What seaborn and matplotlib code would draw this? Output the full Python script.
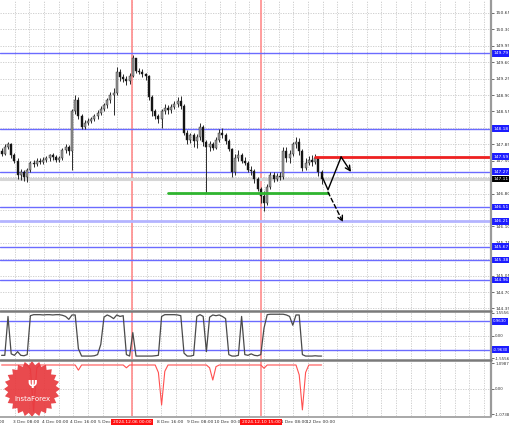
import matplotlib
matplotlib.use("Agg")
import matplotlib.pyplot as plt
import matplotlib.transforms as mtransforms
import numpy as np
import pandas as pd
import seaborn as sns
from matplotlib.patches import Polygon

# ---- H1 candles ----
opens = [147.70, 147.65, 147.80, 147.85, 147.62, 147.50, 147.20, 147.25, 147.15, 147.30,
         147.45, 147.42, 147.50, 147.48, 147.52, 147.55, 147.62, 147.58, 147.52, 147.55,
         147.72, 147.80, 147.70, 148.55, 148.80, 148.45, 148.22, 148.30, 148.35, 148.38,
         148.45, 148.52, 148.60, 148.68, 148.80, 148.90, 148.95, 149.40, 149.28, 149.25,
         149.20, 149.30, 149.68, 149.42, 149.40, 149.35, 149.30, 148.85, 148.55, 148.45,
         148.40, 148.55, 148.62, 148.58, 148.65, 148.70, 148.78, 148.66, 148.10, 147.95,
         148.05, 147.92, 148.00, 148.22, 147.90, 147.80, 147.85, 147.78, 147.95, 148.10,
         148.05, 147.92, 147.75, 147.25, 147.55, 147.62, 147.50, 147.45, 147.30, 147.28,
         147.10, 146.90, 146.75, 146.60, 146.95, 147.20, 147.12, 147.18, 147.15, 147.70,
         147.55, 147.65, 147.85, 147.90, 147.70, 147.35, 147.45, 147.52, 147.48, 147.55,
         147.25]
closes = [147.65, 147.80, 147.85, 147.62, 147.50, 147.20, 147.25, 147.15, 147.30, 147.45,
          147.42, 147.50, 147.48, 147.52, 147.55, 147.62, 147.58, 147.52, 147.55, 147.72,
          147.80, 147.70, 148.55, 148.80, 148.45, 148.22, 148.30, 148.35, 148.38, 148.45,
          148.52, 148.60, 148.68, 148.80, 148.90, 148.95, 149.40, 149.28, 149.25, 149.20,
          149.30, 149.68, 149.42, 149.40, 149.35, 149.30, 148.85, 148.55, 148.45, 148.40,
          148.55, 148.62, 148.58, 148.65, 148.70, 148.78, 148.66, 148.10, 147.95, 148.05,
          147.92, 148.00, 148.22, 147.90, 147.80, 147.85, 147.78, 147.95, 148.10, 148.05,
          147.92, 147.75, 147.25, 147.55, 147.62, 147.50, 147.45, 147.30, 147.28, 147.10,
          146.90, 146.75, 146.60, 146.95, 147.20, 147.12, 147.18, 147.15, 147.70, 147.55,
          147.65, 147.85, 147.90, 147.70, 147.35, 147.45, 147.52, 147.48, 147.55, 147.25,
          147.11]
highs = [147.78, 147.85, 147.90, 147.88, 147.66, 147.55, 147.32, 147.30, 147.35, 147.50,
         147.52, 147.55, 147.56, 147.58, 147.60, 147.65, 147.66, 147.62, 147.60, 147.78,
         147.86, 147.84, 148.60, 148.90, 148.85, 148.50, 148.36, 148.42, 148.44, 148.50,
         148.58, 148.66, 148.74, 148.84, 148.96, 149.05, 149.50, 149.45, 149.35, 149.30,
         149.36, 149.76, 149.70, 149.48, 149.45, 149.38, 149.32, 148.90, 148.60, 148.50,
         148.60, 148.70, 148.68, 148.72, 148.78, 148.86, 148.88, 148.70, 148.15, 148.10,
         148.10, 148.08, 148.30, 148.26, 147.95, 147.92, 147.90, 148.00, 148.18, 148.20,
         148.10, 147.96, 147.78, 147.65, 147.72, 147.66, 147.58, 147.50, 147.38, 147.32,
         147.15, 146.95, 146.85, 147.00, 147.25, 147.26, 147.24, 147.25, 147.80, 147.80,
         147.72, 147.90, 148.00, 147.98, 147.74, 147.55, 147.60, 147.62, 147.64, 147.58,
         147.30]
lows = [147.60, 147.62, 147.75, 147.55, 147.45, 147.12, 147.08, 147.06, 147.05, 147.25,
        147.36, 147.38, 147.42, 147.44, 147.48, 147.50, 147.52, 147.48, 147.47, 147.52,
        147.66, 147.62, 147.30, 148.50, 148.40, 148.18, 148.18, 148.26, 148.30, 148.34,
        148.40, 148.48, 148.55, 148.62, 148.74, 148.48, 148.90, 149.20, 149.18, 149.12,
        149.14, 149.28, 149.38, 149.34, 149.28, 149.22, 148.80, 148.45, 148.38, 148.30,
        148.20, 148.50, 148.50, 148.52, 148.60, 148.64, 148.60, 148.05, 147.85, 147.88,
        147.80, 147.78, 147.95, 147.82, 146.82, 147.70, 147.72, 147.74, 147.90, 147.98,
        147.85, 147.70, 147.15, 147.20, 147.50, 147.45, 147.40, 147.25, 147.20, 147.02,
        146.85, 146.60, 146.43, 146.55, 146.90, 147.05, 147.06, 147.08, 147.12, 147.48,
        147.45, 147.60, 147.78, 147.62, 147.28, 147.30, 147.40, 147.38, 147.42, 147.18,
        147.00]

# ---- indicator windows ----
osc = [-1.35, -1.35, 1.30, -1.25, -1.35, -1.10, -1.35, -1.38, -1.30, 1.35,
       1.42, 1.42, 1.42, 1.40, 1.42, 1.42, 1.40, 1.42, 1.42, 1.38,
       1.30, 1.10, 1.40, 1.40, -0.90, -1.40, -1.40, -1.40, -1.40, -1.38,
       -1.30, -0.60, 1.25, 1.40, 1.30, 1.15, 1.40, 1.30, 1.35, -1.30,
       -1.40, 0.20, -1.40, -1.40, -1.40, -1.40, -1.40, -1.40, -1.38, -1.35,
       1.30, 1.42, 1.42, 1.42, 1.42, 1.40, 1.35, -1.20, -1.40, -1.40,
       -1.35, 1.30, 1.42, 1.30, -1.10, 1.25, 1.40, 1.35, 1.40, 1.30,
       1.15, -1.30, -1.40, -1.40, -1.35, 1.30, -1.30, -1.35, -1.25, -1.35,
       -1.38, -1.30, 0.50, 1.42, 1.45, 1.45, 1.45, 1.45, 1.45, 1.40,
       1.30, 0.70, 1.40, 1.40, -1.30, -1.40, -1.40, -1.40, -1.38, -1.40,
       -1.40]
ind2 = [1.02, 1.02, 1.02, 1.02, 1.02, 1.02, 1.02, 1.02, 1.02, 0.85,
        -0.95, 0.90, 1.02, 1.02, 1.02, 1.02, 1.02, 1.02, 1.02, 1.02,
        1.02, 1.02, 1.02, 1.02, 0.80, 1.02, 1.02, 1.02, 1.02, 1.02,
        1.02, 1.02, 1.02, 1.02, 1.02, 1.02, 1.02, 1.02, 1.02, 0.90,
        1.02, 1.02, 1.02, 1.02, 1.02, 1.02, 1.02, 1.02, 1.02, 0.70,
        -0.68, 0.75, 1.02, 1.02, 1.02, 1.02, 1.02, 1.02, 1.02, 1.02,
        1.02, 1.02, 1.02, 1.02, 1.02, 0.90, 0.38, 0.95, 1.02, 1.02,
        1.02, 1.02, 1.02, 1.02, 1.02, 1.02, 1.02, 1.02, 1.02, 1.02,
        1.02, 1.02, 0.88, 1.02, 1.02, 1.02, 1.02, 1.02, 1.02, 1.02,
        1.02, 1.02, 1.02, 0.60, -0.89, 0.70, 1.02, 1.02, 1.02, 1.02,
        1.02]

# ---- levels & annotations ----
blue_levels = [149.79, 148.18, 147.27, 146.51, 146.21, 145.67, 145.38, 144.96]
resist_level = 147.59
support_level = 146.81
last_price = 147.11
price_ticks = [150.65, 150.30, 149.95, 149.60, 149.25, 148.90, 148.55, 148.20, 147.85,
               147.50, 147.15, 146.80, 146.45, 146.10, 145.75, 145.40, 145.05, 144.70, 144.35]
up_path_x = [100.1, 102.0, 106.1, 109.2]
up_path_y = [147.17, 146.88, 147.58, 147.26]
down_path_x = [102.0, 106.7]
down_path_y = [146.83, 146.19]
marker_bars = [40.75, 81.06]
marker_labels = ["2024.12.06 00:00", "2024.12.10 15:00"]
date_labels = ["2 Dec 16:00", "3 Dec 08:00", "4 Dec 00:00", "4 Dec 16:00", "5 Dec 08:00",
               "8 Dec 16:00", "9 Dec 08:00", "10 Dec 00:00", "11 Dec 08:00", "12 Dec 00:00"]
date_px = [-9, 26, 55, 83, 111, 170, 200, 229, 293, 321]

W, H = 510, 428
PX = 3.2                     # pixels per bar
XMAX = 491 / PX - 0.5
FS = 3.2                     # terminal-style tiny labels


def box(left, top, w, h):
    return [left / W, 1 - (top + h) / H, w / W, h / H]


sns.set_theme(style="white")
plt.rcParams['font.family'] = ['DejaVu Sans']

fig = plt.figure(figsize=(W / 100, H / 100), dpi=100)
ax = fig.add_axes(box(0, 0, 491, 310))
ax1 = fig.add_axes(box(0, 311, 491, 48))
ax2 = fig.add_axes(box(0, 361, 491, 55))

grid_kw = dict(color='#c9c9c9', lw=0.6, ls=(0, (1.5, 1.5)), zorder=0)
vgrid = [k * 14.67 / PX - 0.5 for k in range(1, 34)]
for a in (ax, ax1, ax2):
    a.set_xlim(-0.5, XMAX)
    for v in vgrid:
        a.axvline(v, **grid_kw)
    for s in a.spines.values():
        s.set_visible(False)
    a.set_xticks([])
    for mb in marker_bars:
        a.axvline(mb, color='#ff8c8c', lw=1.2, zorder=1)

# ---- main price panel ----
ax.set_ylim(144.317, 150.927)
for t in price_ticks:
    ax.axhline(t, **grid_kw)
ax.axhline(last_price, color='#d6d6d6', lw=2.2, zorder=1)
for lv in blue_levels:
    light = lv == 146.21
    ax.axhline(lv, color='#b4b4ff' if light else '#6b6bff', lw=2 if light else 1, zorder=2)

idx = np.arange(len(closes))
o = np.array(opens); c = np.array(closes)
ax.vlines(idx, lows, highs, color='#2a2a2a', lw=0.7, zorder=3)
body_col = np.where(c >= o, '#9a9a9a', '#111111')
ax.bar(idx, np.maximum(np.abs(c - o), 0.012), bottom=np.minimum(o, c), width=0.62,
       color=body_col, edgecolor='#222222', linewidth=0.3, zorder=4)

ax.plot([52, 102], [support_level] * 2, color='#2fb52f', lw=2, zorder=5)
ax.plot([97.9, XMAX], [resist_level] * 2, color='#ee2020', lw=2, zorder=5)

ax.plot(up_path_x[:-1], up_path_y[:-1], color='black', lw=1, zorder=6)
ax.annotate('', xy=(up_path_x[-1], up_path_y[-1]), xytext=(up_path_x[-2], up_path_y[-2]),
            arrowprops=dict(arrowstyle='->', color='black', lw=1, mutation_scale=9,
                            shrinkA=0, shrinkB=0), zorder=6)
ax.annotate('', xy=(down_path_x[1], down_path_y[1]), xytext=(down_path_x[0], down_path_y[0]),
            arrowprops=dict(arrowstyle='->', color='black', lw=1, ls=(0, (3, 2)),
                            mutation_scale=9, shrinkA=0, shrinkB=0), zorder=6)

# tick labels that sit under a level box are hidden, as on the terminal
boxed = blue_levels + [resist_level, last_price]
shown = [t for t in price_ticks if min(abs(t - b) for b in boxed) > 0.075]
ax.yaxis.tick_right()
ax.set_yticks(shown)
ax.set_yticklabels([f"{t:.2f}" for t in shown])
ax.tick_params(axis='y', labelsize=FS, length=2, width=0.5, pad=1, colors='#333333')
tr = mtransforms.blended_transform_factory(ax.transAxes, ax.transData)
for lv in blue_levels + [resist_level]:
    ax.text(1.0045, lv, f"{lv:.2f}", transform=tr, fontsize=FS, color='white', va='center',
            ha='left', clip_on=False, zorder=8,
            bbox=dict(boxstyle='square,pad=0.3', fc='#1c1cff', ec='none'))
ax.text(1.0045, last_price, f"{last_price:.2f}", transform=tr, fontsize=FS, color='white',
        va='center', ha='left', clip_on=False, zorder=8,
        bbox=dict(boxstyle='square,pad=0.3', fc='black', ec='none'))

# ---- indicator panels ----
df = pd.DataFrame({'bar': idx, 'osc': osc, 'ind2': ind2})

ax1.set_ylim(-1.6, 1.67)
ax1.axhline(0, **grid_kw)
for lv in (0.963, -0.963):
    ax1.axhline(lv, color='#6b6bff', lw=1, zorder=2)
sns.lineplot(data=df, x='bar', y='osc', ax=ax1, color='#4a4a4a', lw=0.9, zorder=3)
ax1.set_xlabel(''); ax1.set_ylabel('')
ax1.yaxis.tick_right()
ax1.set_yticks([1.5556, 0, -1.5556])
ax1.set_yticklabels(['1.5556', '0.00', '-1.5556'])
ax1.tick_params(axis='y', labelsize=2.9, length=2, width=0.5, pad=1, colors='#333333')
tr1 = mtransforms.blended_transform_factory(ax1.transAxes, ax1.transData)
for lv in (0.963, -0.963):
    ax1.text(1.0045, lv, f"{lv:.4f}", transform=tr1, fontsize=2.9, color='white', va='center',
             clip_on=False, bbox=dict(boxstyle='square,pad=0.3', fc='#1c1cff', ec='none'))

ax2.set_ylim(-1.15, 1.19)
ax2.axhline(0, **grid_kw)
sns.lineplot(data=df, x='bar', y='ind2', ax=ax2, color='#ff5050', lw=0.8, zorder=3)
ax2.set_xlabel(''); ax2.set_ylabel('')
ax2.yaxis.tick_right()
ax2.set_yticks([1.0987, 0, -1.0738])
ax2.set_yticklabels(['1.0987', '0.00', '-1.0738'])
ax2.tick_params(axis='y', labelsize=2.9, length=2, width=0.5, pad=1, colors='#333333')

# ---- overlay: frame, date labels, logo ----
ov = fig.add_axes([0, 0, 1, 1], zorder=10)
ov.set_xlim(0, W); ov.set_ylim(H, 0); ov.axis('off'); ov.patch.set_alpha(0)
ov.plot([491.5, 491.5], [0, 416], color='#9a9a9a', lw=1.6)
for yy in (310.5, 360):
    ov.plot([0, 491.5], [yy, yy], color='#7a7a7a', lw=1.8)
ov.plot([0, 491.5], [416.5, 416.5], color='#9a9a9a', lw=1.2)

for lab, px in zip(date_labels, date_px):
    ov.text(px, 422, lab, fontsize=FS, color='#333333', ha='center', va='center', zorder=2)
for lab, mb in zip(marker_labels, marker_bars):
    ov.text(PX * (mb + 0.5), 422, lab, fontsize=FS, color='white', ha='center', va='center',
            zorder=3, bbox=dict(boxstyle='square,pad=0.3', fc='#ff1010', ec='none'))

cx, cy, n = 32, 389, 24
ang = np.linspace(0, 2 * np.pi, 2 * n, endpoint=False)
rad = np.where(np.arange(2 * n) % 2 == 0, 28, 24)
star = Polygon(np.column_stack([cx + rad * np.cos(ang), cy + rad * np.sin(ang)]),
               closed=True, fc='#e83a3f', ec='none', alpha=0.92)
ov.add_patch(star)
ov.text(cx, cy - 4, u"\u03a8", fontsize=8, color='white', ha='center', va='center',
        fontweight='bold')
ov.text(cx, cy + 10, "InstaForex", fontsize=5, color='white', ha='center', va='center')

fig.savefig("out.png", dpi=100)
